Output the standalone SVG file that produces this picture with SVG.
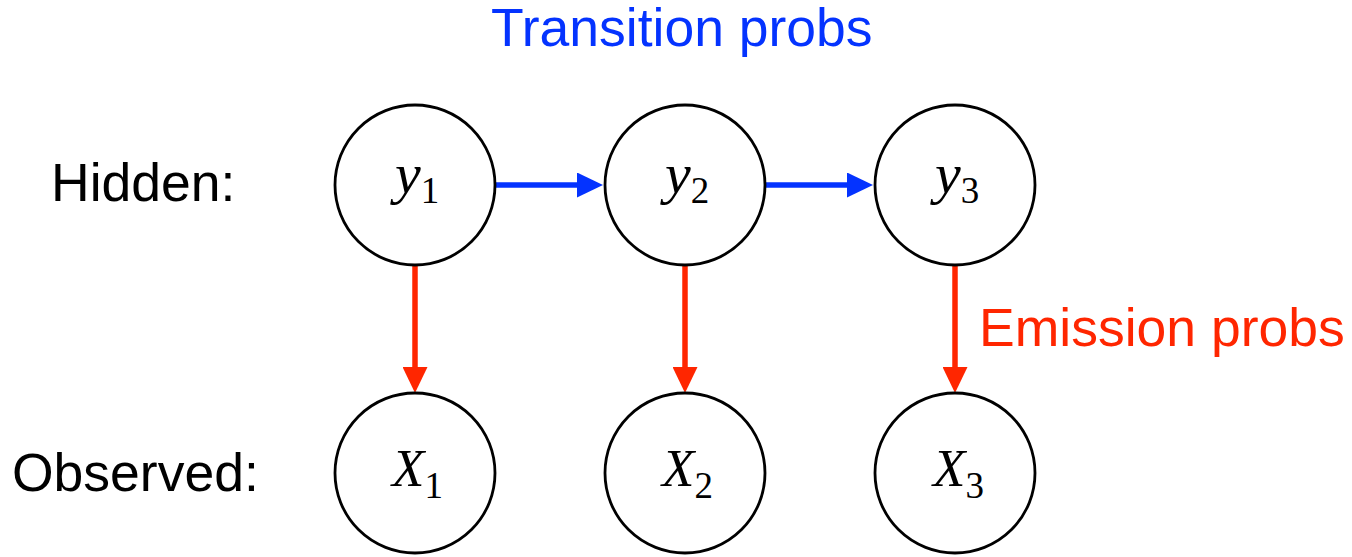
<svg xmlns="http://www.w3.org/2000/svg" width="1352" height="557" viewBox="0 0 1352 557">
<style>
.node{fill:#fff;stroke:#000;stroke-width:2.8}
.lbl{font-family:"Liberation Sans",Arial,sans-serif;font-size:53.5px;fill:#000}
.var{font-family:"Liberation Serif","Times New Roman",serif;font-style:italic;font-size:53px;fill:#000}
.vy{font-size:58px}
.sub{font-style:normal;font-size:37px}
.blue{stroke:#0433FF;stroke-width:5.5;fill:none}
.red{stroke:#FF2600;stroke-width:5.5;fill:none}
</style>
<defs>
<marker id="ab" markerUnits="userSpaceOnUse" markerWidth="26" markerHeight="25" refX="3" refY="12.5" orient="auto"><path d="M0,0 L26,12.5 L0,25 z" fill="#0433FF"/></marker>
<marker id="ar" markerUnits="userSpaceOnUse" markerWidth="26" markerHeight="25" refX="3" refY="12.5" orient="auto"><path d="M0,0 L26,12.5 L0,25 z" fill="#FF2600"/></marker>
</defs>
<rect width="1352" height="557" fill="#fff"/>
<g id="labels">
<text class="lbl" x="51" y="201">Hidden:</text>
<text class="lbl" x="12" y="491">Observed:</text>
<text class="lbl" x="491" y="46" style="fill:#0433FF">Transition probs</text>
<text class="lbl" x="979" y="346" style="fill:#FF2600">Emission probs</text>
</g>
<g id="connectors">
<line class="blue" x1="496" y1="185" x2="580" y2="185" marker-end="url(#ab)"/>
<line class="blue" x1="766" y1="185" x2="850" y2="185" marker-end="url(#ab)"/>
<line class="red" x1="415" y1="266" x2="415" y2="370" marker-end="url(#ar)"/>
<line class="red" x1="685" y1="266" x2="685" y2="370" marker-end="url(#ar)"/>
<line class="red" x1="955" y1="266" x2="955" y2="370" marker-end="url(#ar)"/>
</g>
<g id="y1"><circle class="node" cx="415" cy="185" r="80"/><text class="var vy" x="395" y="193">y<tspan class="sub" dy="10">1</tspan></text></g>
<g id="y2"><circle class="node" cx="685" cy="185" r="80"/><text class="var vy" x="665" y="193">y<tspan class="sub" dy="10">2</tspan></text></g>
<g id="y3"><circle class="node" cx="955" cy="185" r="80"/><text class="var vy" x="935" y="193">y<tspan class="sub" dy="10">3</tspan></text></g>
<g id="x1"><circle class="node" cx="415" cy="473" r="80"/><text class="var" x="392" y="486">X<tspan class="sub" dy="12">1</tspan></text></g>
<g id="x2"><circle class="node" cx="685" cy="473" r="80"/><text class="var" x="662" y="486">X<tspan class="sub" dy="12">2</tspan></text></g>
<g id="x3"><circle class="node" cx="955" cy="473" r="80"/><text class="var" x="933" y="486">X<tspan class="sub" dy="12">3</tspan></text></g>
</svg>
